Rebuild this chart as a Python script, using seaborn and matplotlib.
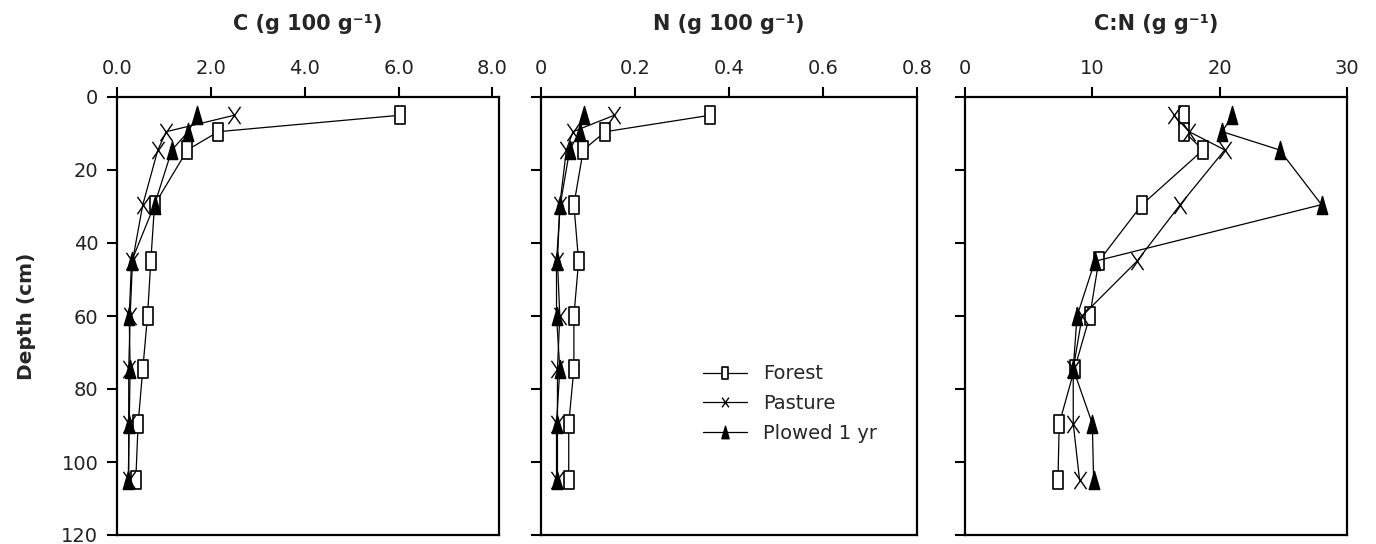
import seaborn as sns
import matplotlib.pyplot as plt
from matplotlib.path import Path
import numpy as np

# -----------------------------------------
# Soil profile data
# -----------------------------------------

depths = [5, 9.5, 14.5, 29.5, 45, 60, 74.5, 89.5, 105]
land_uses = ["Forest", "Pasture", "Plowed 1 yr"]

c_forest = [6.03, 2.16, 1.50, 0.80, 0.72, 0.65, 0.55, 0.45, 0.40]
c_pasture = [2.50, 1.05, 0.87, 0.55, 0.33, 0.28, 0.25, 0.25, 0.25]
c_plowed = [1.70, 1.52, 1.17, 0.80, 0.31, 0.26, 0.28, 0.26, 0.24]

n_forest = [0.360, 0.137, 0.090, 0.070, 0.080, 0.070, 0.070, 0.059, 0.059]
n_pasture = [0.156, 0.068, 0.054, 0.040, 0.035, 0.040, 0.035, 0.035, 0.035]
n_plowed = [0.091, 0.082, 0.061, 0.041, 0.033, 0.033, 0.040, 0.033, 0.033]

cn_forest = [17.2, 17.2, 18.7, 13.9, 10.5, 9.8, 8.6, 7.4, 7.3]
cn_pasture = [16.4, 17.6, 20.4, 16.9, 13.5, 9.2, 8.5, 8.5, 9.0]
cn_plowed = [21.0, 20.2, 24.7, 28.0, 10.2, 8.8, 8.5, 10.0, 10.1]

titles = ["C (g 100 g\u207b\u00b9)", "N (g 100 g\u207b\u00b9)", "C:N (g g\u207b\u00b9)"]
x_ticks = [[0, 2, 4, 6, 8], [0, 0.2, 0.4, 0.6, 0.8], [0, 10, 20, 30]]
x_ticklabels = [["0.0", "2.0", "4.0", "6.0", "8.0"],
                ["0", "0.2", "0.4", "0.6", "0.8"],
                ["0", "10", "20", "30"]]
x_limits = [(0, 8.14), (0, 0.8), (0, 30)]
y_ticks = [0, 20, 40, 60, 80, 100, 120]

panels = [
    [c_forest, c_pasture, c_plowed],
    [n_forest, n_pasture, n_plowed],
    [cn_forest, cn_pasture, cn_plowed],
]

# -----------------------------------------
# Marker shapes (tall box, thin cross, tall triangle)
# -----------------------------------------

box = Path([(-0.25, -0.5), (0.25, -0.5), (0.25, 0.5), (-0.25, 0.5), (-0.25, -0.5)],
           [Path.MOVETO, Path.LINETO, Path.LINETO, Path.LINETO, Path.CLOSEPOLY])
cross = Path([(-0.35, -0.5), (0.35, 0.5), (-0.35, 0.5), (0.35, -0.5)],
             [Path.MOVETO, Path.LINETO, Path.MOVETO, Path.LINETO])
tri = Path([(0, 0.5), (0.29, -0.5), (-0.29, -0.5), (0, 0.5)],
           [Path.MOVETO, Path.LINETO, Path.LINETO, Path.CLOSEPOLY])

styles = [
    dict(marker=box, markersize=13, markerfacecolor="white", markeredgecolor="black", markeredgewidth=1.2),
    dict(marker=cross, markersize=12.5, markerfacecolor="none", markeredgecolor="black", markeredgewidth=1.0),
    dict(marker=tri, markersize=13, markerfacecolor="black", markeredgecolor="black", markeredgewidth=1.0),
]

# -----------------------------------------
# Visualization Settings
# -----------------------------------------

sns.set_style("ticks")
plt.rcParams["font.family"] = ["DejaVu Sans"]

fig = plt.figure(figsize=(13.76, 5.44), dpi=100)
lefts = [117, 541, 965]
rights = [499, 917, 1347]
axes = [fig.add_axes([l / 1376, 9 / 544, (r - l) / 1376, 438 / 544]) for l, r in zip(lefts, rights)]

for i, ax in enumerate(axes):
    for vals, name, st in zip(panels[i], land_uses, styles):
        sns.lineplot(x=vals, y=depths, sort=False, estimator=None, ax=ax,
                     color="black", linewidth=0.9, label=name, **st)

    ax.set_xlim(*x_limits[i])
    ax.set_ylim(120, 0)
    ax.set_xticks(x_ticks[i])
    ax.set_xticklabels(x_ticklabels[i])
    ax.set_yticks(y_ticks)
    ax.xaxis.tick_top()
    ax.tick_params(axis="both", direction="out", length=7.5, width=1.5,
                   labelsize=14, pad=6, color="black", labelcolor="#222222")
    for sp in ax.spines.values():
        sp.set_visible(True)
        sp.set_linewidth(1.6)
        sp.set_color("black")
    ax.set_xlabel("")
    ax.set_ylabel("")
    ax.set_title(titles[i], fontsize=15, fontweight="bold", pad=21)
    if i > 0:
        ax.set_yticklabels([])
    if i != 1:
        ax.get_legend().remove()

axes[0].set_ylabel("Depth (cm)", fontsize=14.5, fontweight="bold", labelpad=18)

leg = axes[1].legend(loc="center left", bbox_to_anchor=(0.43, 0.30), frameon=False,
                     fontsize=14, handlelength=2.3, handletextpad=0.8, labelspacing=0.55,
                     borderpad=0, borderaxespad=0)
for h, ms in zip(leg.legend_handles, [8, 7, 9]):
    h.set_markersize(ms)

# -----------------------------------------
# Save Output
# -----------------------------------------

plt.savefig("out.png", dpi=100)
